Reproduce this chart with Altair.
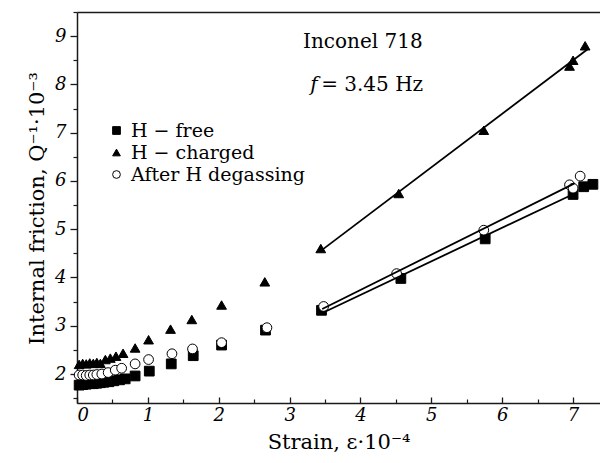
import altair as alt
import pandas as pd

# ---- data ----
free_x = [0.03, 0.08, 0.13, 0.18, 0.23, 0.28, 0.33, 0.38, 0.45, 0.52, 0.60, 0.68,
          0.82, 1.02, 1.33, 1.64, 2.04, 2.66, 3.45, 4.57, 5.76, 7.00, 7.15, 7.28]
free_y = [1.77, 1.78, 1.79, 1.80, 1.80, 1.81, 1.82, 1.83, 1.84, 1.86, 1.88, 1.90,
          1.96, 2.06, 2.21, 2.38, 2.60, 2.91, 3.32, 3.98, 4.80, 5.72, 5.88, 5.93]

charged_x = [0.03, 0.08, 0.13, 0.18, 0.23, 0.28, 0.33, 0.40, 0.47, 0.55, 0.65,
             0.82, 1.01, 1.32, 1.62, 2.04, 2.65, 3.44, 4.54, 5.74, 6.95, 7.00, 7.17]
charged_y = [2.20, 2.22, 2.21, 2.23, 2.22, 2.24, 2.22, 2.30, 2.33, 2.37, 2.43,
             2.54, 2.71, 2.93, 3.13, 3.43, 3.91, 4.60, 5.74, 7.05, 8.38, 8.50, 8.80]

degas_x = [0.03, 0.08, 0.13, 0.18, 0.23, 0.28, 0.35, 0.44, 0.54, 0.63, 0.82,
           1.01, 1.34, 1.63, 2.04, 2.68, 3.48, 4.51, 5.74, 6.95, 7.00, 7.10]
degas_y = [1.98, 1.98, 1.97, 1.98, 1.98, 1.99, 2.00, 2.03, 2.08, 2.12, 2.21,
           2.30, 2.42, 2.52, 2.65, 2.96, 3.40, 4.08, 4.98, 5.92, 5.85, 6.10]

series_names = ["H \u2212 free", "H \u2212 charged", "After H degassing"]

# linear fits are drawn over the high-strain part only
fit_min_x = 3.4
fit_extent = {"H \u2212 free": [3.44, 7.0],
              "H \u2212 charged": [3.44, 7.2],
              "After H degassing": [3.46, 7.02]}

x_major = [0, 1, 2, 3, 4, 5, 6, 7]
x_minor = [0.5, 1.5, 2.5, 3.5, 4.5, 5.5, 6.5]
y_major = [2, 3, 4, 5, 6, 7, 8, 9]
y_minor = [1.5, 2.5, 3.5, 4.5, 5.5, 6.5, 7.5, 8.5, 9.5]

ann_x = [3.19, 3.29, 3.29]
ann_y = [8.87, 7.98, 7.98]
ann_text = ["Inconel 718", "f", "= 3.45 Hz"]

# ---- build table ----
rows = []
for name, xs, ys in zip(series_names, [free_x, charged_x, degas_x], [free_y, charged_y, degas_y]):
    for a, b in zip(xs, ys):
        rows.append({"x": a, "y": b, "series": name})
df = pd.DataFrame(rows)

FONT = "DejaVu Serif"
W, H = 523, 391
xscale = alt.Scale(domain=[0, 7.38], nice=False, zero=False)
yscale = alt.Scale(domain=[1.4, 9.5], nice=False, zero=False)
AX = "#1a1a1a"

base = alt.Chart(df)

leg = alt.Legend(title=None, orient="none", legendX=30, legendY=109,
                 labelFont=FONT, labelFontSize=19, labelColor="black", labelLimit=400,
                 symbolSize=60, symbolStrokeWidth=1, rowPadding=2, padding=0, labelOffset=5)

points = base.mark_point(filled=True, size=95, strokeWidth=1, opacity=1).encode(
    x=alt.X("x:Q", scale=xscale,
            axis=alt.Axis(values=x_major, ticks=False, grid=False, domainColor=AX, domainWidth=1.5,
                          labelFont=FONT, labelFontStyle="italic", labelFontSize=18, labelColor="black",
                          labelPadding=3, title="Strain, \u03b5\u00b710\u207b\u2074", titleFont=FONT,
                          titleFontSize=21, titleFontWeight="normal", titleColor="black", titlePadding=7)),
    y=alt.Y("y:Q", scale=yscale,
            axis=alt.Axis(values=y_major, grid=False, domainColor=AX, domainWidth=1.5, tickSize=7,
                          tickColor=AX, tickWidth=1.3, labelFont=FONT, labelFontStyle="italic",
                          labelFontSize=18, labelColor="black", labelPadding=4,
                          title="Internal friction, Q\u207b\u00b9\u00b710\u207b\u00b3", titleFont=FONT,
                          titleFontSize=21, titleFontWeight="normal", titleColor="black",
                          titleX=-40, titleY=196, titleAngle=270, titleAlign="center",
                          titleBaseline="middle")),
    shape=alt.Shape("series:N", scale=alt.Scale(domain=series_names,
                                               range=["square", "triangle-up", "circle"]),
                    legend=leg),
    fill=alt.Fill("series:N", scale=alt.Scale(domain=series_names, range=["black", "black", "white"]),
                  legend=leg),
    stroke=alt.Stroke("series:N", scale=alt.Scale(domain=series_names, range=["black", "black", "black"]),
                      legend=leg),
    order=alt.Order("ord:Q"),
).transform_calculate(ord="datum.series == 'After H degassing' ? 3 : (datum.series == 'H \u2212 charged' ? 2 : 1)")

fits = []
for name in series_names:
    f = base.transform_filter(
        (alt.datum.series == name) & (alt.datum.x >= fit_min_x)
    ).transform_regression("x", "y", extent=fit_extent[name]).mark_line(
        color="black", strokeWidth=1.8
    ).encode(
        x=alt.X("x:Q", scale=xscale, axis=None),
        y=alt.Y("y:Q", scale=yscale, axis=None),
    )
    fits.append(f)

# extra axis layers: inward x ticks, minor ticks and top frame line
guide = base.mark_point(opacity=0)
x_in_major = guide.encode(
    x=alt.X("x:Q", scale=xscale, axis=alt.Axis(orient="top", offset=-H, values=x_major, labels=False,
                                               domain=False, tickSize=6, tickColor=AX, tickWidth=1.3,
                                               grid=False, title=None)),
    y=alt.Y("y:Q", scale=yscale, axis=alt.Axis(orient="left", values=y_minor, labels=False,
                                               domain=False, tickSize=4, tickColor=AX, tickWidth=1.2,
                                               grid=False, title=None)),
)
x_in_minor = guide.encode(
    x=alt.X("x:Q", scale=xscale, axis=alt.Axis(orient="top", offset=-H, values=x_minor, labels=False,
                                               domain=False, tickSize=4, tickColor=AX, tickWidth=1.2,
                                               grid=False, title=None)),
    y=alt.Y("y:Q", scale=yscale, axis=None),
)
top_frame = guide.encode(
    x=alt.X("x:Q", scale=xscale, axis=alt.Axis(orient="top", offset=0, labels=False, ticks=False,
                                               domain=True, domainColor=AX, domainWidth=1.5,
                                               grid=False, title=None)),
    y=alt.Y("y:Q", scale=yscale, axis=None),
)

ann_df = pd.DataFrame({"x": ann_x, "y": ann_y, "t": ann_text})
ann1 = alt.Chart(ann_df.iloc[[0]]).mark_text(font=FONT, fontSize=20, align="left", baseline="middle",
                                             color="black").encode(
    x=alt.X("x:Q", scale=xscale, axis=None), y=alt.Y("y:Q", scale=yscale, axis=None), text="t:N")
ann2 = alt.Chart(ann_df.iloc[[1]]).mark_text(font=FONT, fontSize=20, fontStyle="italic", align="left",
                                             baseline="middle", color="black").encode(
    x=alt.X("x:Q", scale=xscale, axis=None), y=alt.Y("y:Q", scale=yscale, axis=None), text="t:N")
ann3 = alt.Chart(ann_df.iloc[[2]]).mark_text(font=FONT, fontSize=20, align="left", baseline="middle",
                                             color="black", dx=11).encode(
    x=alt.X("x:Q", scale=xscale, axis=None), y=alt.Y("y:Q", scale=yscale, axis=None), text="t:N")

chart = alt.layer(points, *fits, x_in_major, x_in_minor, top_frame, ann1, ann2, ann3).resolve_axis(
    x="independent", y="independent"
).properties(
    width=W, height=H,
    padding={"left": 77, "top": 12, "right": 0, "bottom": 60},
    autosize=alt.AutoSizeParams(type="none"),
    background="white",
).configure_view(stroke=None)

chart.save("out.html", embed_options={"renderer": "svg", "actions": False})
